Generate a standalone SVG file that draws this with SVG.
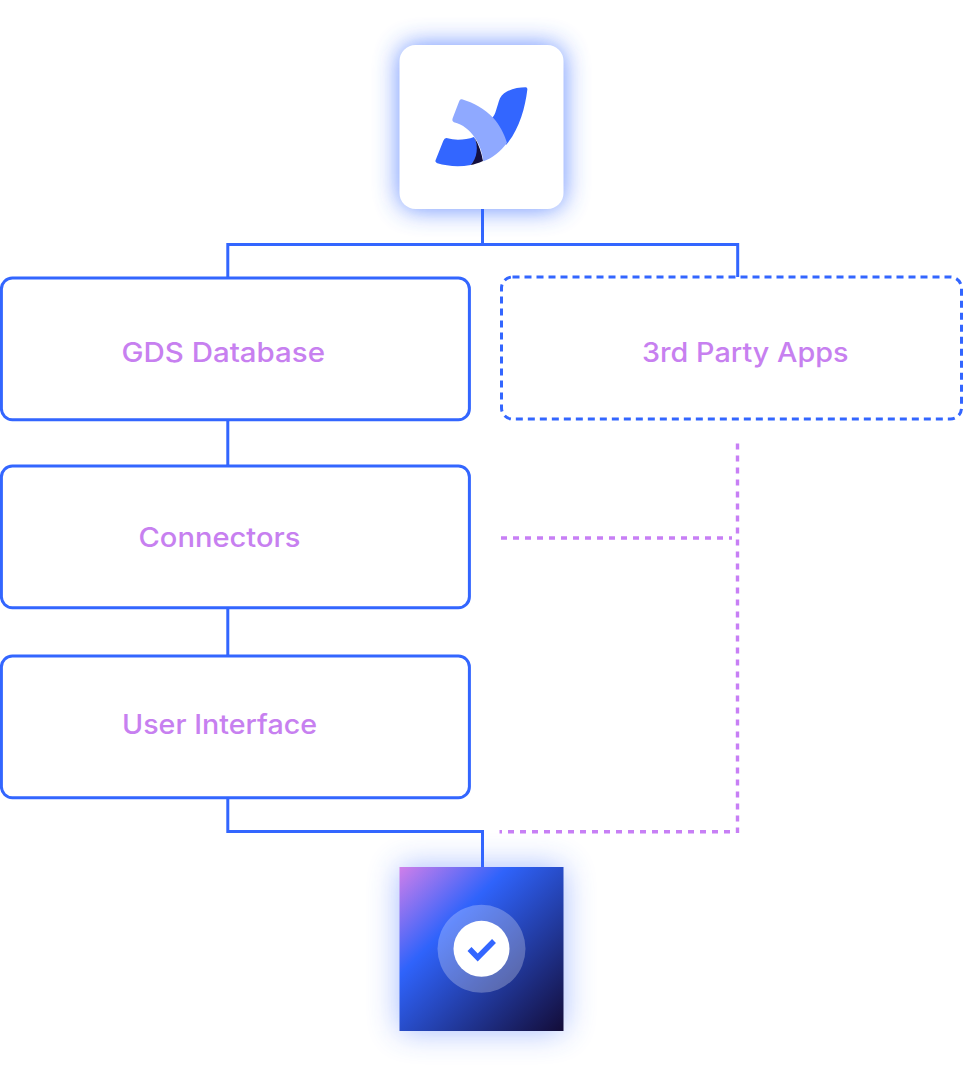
<svg xmlns="http://www.w3.org/2000/svg" width="963" height="1076" viewBox="0 0 963 1076">
<style>
.box{fill:#fff;stroke:#3366ff;stroke-width:3}
.dash{stroke-dasharray:7 5}
.link{fill:none;stroke:#3366ff;stroke-width:3}
.alt{fill:none;stroke:#c77ff5;stroke-width:3.4;stroke-dasharray:6 6}
text{font-family:"Inter","Noto Sans",sans-serif;font-weight:500;font-size:27px;fill:#c780f0}
</style>
<defs>
<filter id="glowA" x="-40%" y="-40%" width="180%" height="180%"><feGaussianBlur stdDeviation="13"/></filter>
<filter id="glowB" x="-50%" y="-50%" width="200%" height="200%"><feGaussianBlur stdDeviation="16"/></filter>
<linearGradient id="grad" x1="0" y1="0" x2="1" y2="1">
<stop offset="0" stop-color="#d07fea"/><stop offset=".33" stop-color="#2f63fb"/><stop offset="1" stop-color="#130c38"/>
</linearGradient>
</defs>
<rect width="963" height="1076" fill="#fff"/>
<g id="connectors">
<path class="link" d="M482.5 209V244.5M227.8 277V244.5H737.7V277M227.8 420V466M227.8 608V656M227.8 798V831.5H482.5V867"/>
<path class="alt" d="M737.5 443.5V833"/>
<path class="alt" d="M501 538H732"/>
<path class="alt" style="stroke-dashoffset:3.5" d="M499.5 831.7H731"/>
</g>
<g id="top-node">
<rect x="399.5" y="45" width="164" height="164" rx="16" fill="#3366ff" opacity=".75" filter="url(#glowA)"/>
<rect x="399.5" y="45" width="164" height="164" rx="16" fill="#fff"/>
<g transform="translate(380 30) scale(.3333)">
<path fill="#3366ff" d="M437 172Q443 172 442 179C435 235 418 298 378 345L335 265C348 255 350 230 360 205C373 180 410 172 437 172Z"/>
<path fill="#3366ff" d="M172 400Q164 396 167 390L190 332Q194 322 203 325C225 332 258 330 282 321C295 345 300 380 272 405C235 412 200 408 172 400Z"/>
<path fill="#14103f" d="M283 322C297 345 305 370 309 393C295 400 283 403 272 405C292 385 296 350 283 322Z"/>
<path fill="#8fa9ff" d="M246 208C280 218 315 238 340 264C358 283 372 310 381 338C362 365 336 385 310 394C305 345 275 290 222 277Q215 274 218 265L237 215Q240 206 246 208Z"/>
</g>
</g>
<g id="gds-database">
<rect class="box" x="1.4" y="278" width="468" height="141.7" rx="11"/>
<text x="121.5" y="362" textLength="203.5" lengthAdjust="spacingAndGlyphs">GDS Database</text>
</g>
<g id="third-party-apps">
<rect class="box dash" x="501.5" y="277" width="460" height="142" rx="11"/>
<text x="642" y="362" textLength="206.5" lengthAdjust="spacingAndGlyphs">3rd Party Apps</text>
</g>
<g id="connectors-node">
<rect class="box" x="1.4" y="466" width="468" height="141.7" rx="11"/>
<text x="138.5" y="547" textLength="162" lengthAdjust="spacingAndGlyphs">Connectors</text>
</g>
<g id="user-interface">
<rect class="box" x="1.4" y="656" width="468" height="141.7" rx="11"/>
<text x="122" y="734" textLength="195" lengthAdjust="spacingAndGlyphs">User Interface</text>
</g>
<g id="bottom-node">
<rect x="399.5" y="867" width="164" height="164" fill="#3366ff" opacity=".45" filter="url(#glowB)"/>
<rect x="399.5" y="867" width="164" height="164" fill="url(#grad)"/>
<circle cx="481.5" cy="948.8" r="44" fill="#fff" opacity=".26"/>
<circle cx="481.5" cy="948.8" r="28" fill="#fff"/>
<path d="M469.5 949L477.7 957.5L494 941" fill="none" stroke="#3366ff" stroke-width="5.5"/>
</g>
</svg>
